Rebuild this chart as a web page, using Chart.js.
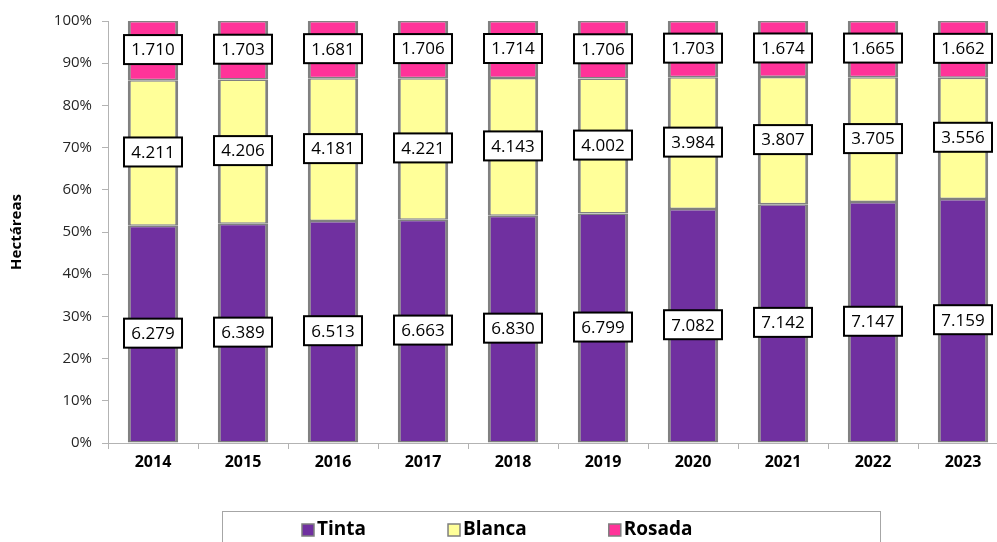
<!DOCTYPE html>
<html>
<head>
<meta charset="utf-8">
<script src="https://cdn.jsdelivr.net/npm/chart.js@4.4.0/dist/chart.umd.min.js"></script>
<style>
  html, body { margin: 0; padding: 0; background: #fff; overflow: hidden; }
  #wrap { width: 1012px; height: 542px; }
</style>
</head>
<body>
<div id="wrap"><canvas id="chart" width="1012" height="542"></canvas></div>
<script>
// datos (hectáreas)
const years = ["2014", "2015", "2016", "2017", "2018", "2019", "2020", "2021", "2022", "2023"];
const tinta = [6279, 6389, 6513, 6663, 6830, 6799, 7082, 7142, 7147, 7159];
const blanca = [4211, 4206, 4181, 4221, 4143, 4002, 3984, 3807, 3705, 3556];
const rosada = [1710, 1703, 1681, 1706, 1714, 1706, 1703, 1674, 1665, 1662];
const seriesNames = ["Tinta", "Blanca", "Rosada"];
const seriesColors = ["#7030a0", "#ffff99", "#ff3399"];

const FONT = '"Open Sans", "Liberation Sans", sans-serif';

// 100% apilado
const totals = years.map((_, i) => tinta[i] + blanca[i] + rosada[i]);
const pct = (arr) => arr.map((v, i) => (v / totals[i]) * 100);

const fmt = (v) => String(v).replace(/\B(?=(\d{3})+(?!\d))/g, ".");

const boxLabels = {
  id: "boxLabels",
  afterDatasetsDraw(chart) {
    const ctx = chart.ctx;
    ctx.save();
    ctx.font = "17px " + FONT;
    ctx.textAlign = "center";
    ctx.textBaseline = "middle";
    chart.data.datasets.forEach((ds, i) => {
      const meta = chart.getDatasetMeta(i);
      meta.data.forEach((bar, j) => {
        const text = fmt(ds.raw[j]);
        const w = Math.round(ctx.measureText(text).width) + 15;
        const h = 29;
        const cx = bar.x;
        const cy = (bar.y + bar.base) / 2 - 1;
        ctx.fillStyle = "#fff";
        ctx.fillRect(cx - w / 2, cy - h / 2, w, h);
        ctx.lineWidth = 2;
        ctx.strokeStyle = "#000";
        ctx.strokeRect(cx - w / 2, cy - h / 2, w, h);
        ctx.fillStyle = "#000";
        ctx.fillText(text, cx, cy + 1);
      });
    });
    ctx.restore();
  }
};

const boxLegend = {
  id: "boxLegend",
  afterDraw(chart) {
    const ctx = chart.ctx;
    ctx.save();
    ctx.strokeStyle = "#a6a6a6";
    ctx.lineWidth = 1;
    ctx.strokeRect(222.5, 511.5, 658, 40);
    ctx.font = "bold 19px " + FONT;
    ctx.textBaseline = "middle";
    ctx.textAlign = "left";
    let x = 302;
    const y = 530;
    chart.data.datasets.forEach((ds) => {
      ctx.fillStyle = ds.backgroundColor;
      ctx.fillRect(x, y - 6, 12, 12);
      ctx.strokeStyle = "#7f7f7f";
      ctx.lineWidth = 1.5;
      ctx.strokeRect(x, y - 6, 12, 12);
      ctx.fillStyle = "#000";
      ctx.fillText(ds.label, x + 15, y);
      x += 15 + ctx.measureText(ds.label).width + 82;
    });
    ctx.restore();
  }
};

const makeDs = (i, raw) => ({
  label: seriesNames[i],
  data: pct(raw),
  raw: raw,
  backgroundColor: seriesColors[i],
  borderColor: "#808080",
  borderWidth: { left: 3, right: 3, top: 1.5, bottom: 1.5 },
  borderSkipped: false,
  barPercentage: 1,
  categoryPercentage: 0.56
});

new Chart(document.getElementById("chart"), {
  type: "bar",
  data: {
    labels: years,
    datasets: [makeDs(0, tinta), makeDs(1, blanca), makeDs(2, rosada)]
  },
  options: {
    responsive: false,
    animation: false,
    layout: { padding: { top: 21, right: 4, bottom: 63, left: 0 } },
    plugins: {
      legend: { display: false },
      tooltip: { enabled: false }
    },
    scales: {
      x: {
        stacked: true,
        afterFit: (s) => { s.height = 36; },
        grid: { drawOnChartArea: false, drawTicks: true, tickLength: 6, color: "#b3b3b3", offset: true },
        border: { color: "#b3b3b3", width: 1 },
        ticks: { color: "#000", font: { family: FONT, size: 16, weight: "bold" }, padding: 4 }
      },
      y: {
        stacked: true,
        min: 0,
        max: 100,
        afterFit: (s) => { s.width = 108; },
        grid: { drawOnChartArea: false, drawTicks: true, tickLength: 6, color: "#b3b3b3" },
        border: { color: "#b3b3b3", width: 1 },
        ticks: {
          stepSize: 10,
          color: "#262626",
          font: { family: FONT, size: 15 },
          padding: 10,
          callback: (v) => v + "%"
        },
        title: {
          display: true,
          text: "Hectáreas",
          color: "#000",
          font: { family: FONT, size: 15, weight: "bold" },
          padding: { top: 8, bottom: 0 }
        }
      }
    }
  },
  plugins: [boxLabels, boxLegend]
});
</script>
</body>
</html>
